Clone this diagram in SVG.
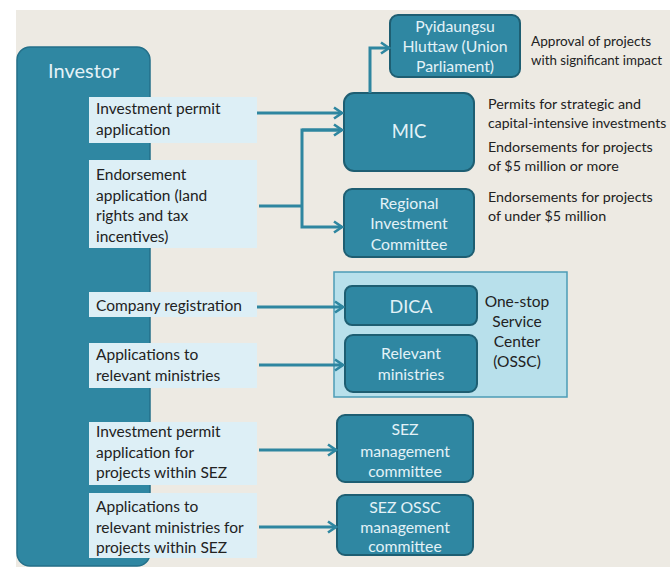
<svg xmlns="http://www.w3.org/2000/svg" width="670" height="567" viewBox="0 0 670 567">
<defs>
<marker id="chev" viewBox="0 0 12 14" refX="10" refY="7" markerWidth="12" markerHeight="14" orient="auto" markerUnits="userSpaceOnUse">
<path d="M2,1.5 L10,7 L2,12.5" fill="none" stroke="#2E86A0" stroke-width="2.6"/>
</marker>
<style>
.bg{fill:#EDEAE3}
.inv{fill:#2F87A2;stroke:#24708A;stroke-width:1.5}
.lab{fill:#DDEFF6}
.node{fill:#2F87A2;stroke:#1E5E72;stroke-width:2}
.ossc{fill:#B8E0EB;stroke:#4C9CB6;stroke-width:1.5}
.t{font-family:Lato,"Open Sans","Liberation Sans",sans-serif;font-size:15.5px;fill:#222}
.n{font-family:Lato,"Open Sans","Liberation Sans",sans-serif;font-size:14.3px;fill:#222}
.w{font-family:Lato,"Open Sans","Liberation Sans",sans-serif;font-size:15.8px;fill:#E3F2F7;text-anchor:middle}
.big{font-size:18.5px}
.c{text-anchor:middle}
.conn{fill:none;stroke:#2E86A0;stroke-width:3}
</style>
</defs>
<rect class="bg" x="16" y="10" width="654" height="557"/>
<g id="investor">
<rect class="inv" x="17" y="47" width="133" height="519" rx="13"/>
<text x="48" y="78" class="w" style="text-anchor:start;font-size:20px">Investor</text>
</g>
<g id="lab-permit">
<rect class="lab" x="89" y="97" width="168" height="46"/>
<text class="t" x="96" y="114">Investment permit</text>
<text class="t" x="96" y="135">application</text>
</g>
<g id="lab-endorse">
<rect class="lab" x="89" y="160" width="168" height="88"/>
<text class="t" x="96" y="180">Endorsement</text>
<text class="t" x="96" y="201">application (land</text>
<text class="t" x="96" y="221">rights and tax</text>
<text class="t" x="96" y="242">incentives)</text>
</g>
<g id="lab-company">
<rect class="lab" x="89" y="292" width="168" height="25"/>
<text class="t" x="96" y="311">Company registration</text>
</g>
<g id="lab-ministries">
<rect class="lab" x="89" y="343" width="168" height="45"/>
<text class="t" x="96" y="360">Applications to</text>
<text class="t" x="96" y="381">relevant ministries</text>
</g>
<g id="lab-sez">
<rect class="lab" x="89" y="422" width="168" height="63"/>
<text class="t" x="96" y="437">Investment permit</text>
<text class="t" x="96" y="458">application for</text>
<text class="t" x="96" y="478">projects within SEZ</text>
</g>
<g id="lab-sezmin">
<rect class="lab" x="89" y="493" width="168" height="65"/>
<text class="t" x="96" y="512">Applications to</text>
<text class="t" x="96" y="533">relevant ministries for</text>
<text class="t" x="96" y="553">projects within SEZ</text>
</g>
<g id="ossc">
<rect class="ossc" x="334" y="272" width="233" height="125"/>
<text class="t c" x="517" y="307">One-stop</text>
<text class="t c" x="517" y="327">Service</text>
<text class="t c" x="517" y="347">Center</text>
<text class="t c" x="517" y="367">(OSSC)</text>
</g>
<g id="pyidaungsu">
<rect class="node" x="390" y="15" width="130" height="62" rx="8"/>
<text class="w" x="455" y="32">Pyidaungsu</text>
<text class="w" x="455" y="52">Hluttaw (Union</text>
<text class="w" x="455" y="72">Parliament)</text>
</g>
<g id="mic">
<rect class="node" x="344" y="93" width="130" height="78" rx="10"/>
<text class="w big" x="409" y="138">MIC</text>
</g>
<g id="regional">
<rect class="node" x="344" y="189" width="130" height="68" rx="8"/>
<text class="w" x="409" y="209">Regional</text>
<text class="w" x="409" y="229">Investment</text>
<text class="w" x="409" y="250">Committee</text>
</g>
<g id="dica">
<rect class="node" x="345" y="286" width="132" height="39" rx="7"/>
<text class="w" x="411" y="313" style="font-size:18px">DICA</text>
</g>
<g id="relevant">
<rect class="node" x="345" y="335" width="132" height="57" rx="8"/>
<text class="w" x="411" y="359">Relevant</text>
<text class="w" x="411" y="380">ministries</text>
</g>
<g id="sez">
<rect class="node" x="337" y="415" width="136" height="67" rx="8"/>
<text class="w" x="405" y="435">SEZ</text>
<text class="w" x="405" y="457">management</text>
<text class="w" x="405" y="477">committee</text>
</g>
<g id="sezossc">
<rect class="node" x="337" y="495" width="136" height="60" rx="8"/>
<text class="w" x="405" y="513">SEZ OSSC</text>
<text class="w" x="405" y="533">management</text>
<text class="w" x="405" y="552">committee</text>
</g>
<g id="notes">
<text class="n" x="531" y="46" style="font-size:13.6px">Approval of projects</text>
<text class="n" x="531" y="65" style="font-size:13.3px">with significant impact</text>
<text class="n" x="488" y="109">Permits for strategic and</text>
<text class="n" x="488" y="128" style="font-size:14px">capital-intensive investments</text>
<text class="n" x="488" y="152">Endorsements for projects</text>
<text class="n" x="488" y="171">of $5 million or more</text>
<text class="n" x="488" y="202">Endorsements for projects</text>
<text class="n" x="488" y="221">of under $5 million</text>
</g>
<g id="connectors">
<path class="conn" d="M257,113 H342" marker-end="url(#chev)"/>
<path class="conn" d="M259,206 H302"/>
<path class="conn" d="M342,130 H302 V227 H342" marker-end="url(#chev)"/>
<path class="conn" d="M302,130 H342" marker-end="url(#chev)"/>
<path class="conn" d="M370,93 V48 H389" marker-end="url(#chev)"/>
<path class="conn" d="M257,307 H343" marker-end="url(#chev)"/>
<path class="conn" d="M259,365 H343" marker-end="url(#chev)"/>
<path class="conn" d="M259,450 H336" marker-end="url(#chev)"/>
<path class="conn" d="M259,527 H336" marker-end="url(#chev)"/>
</g>
</svg>
